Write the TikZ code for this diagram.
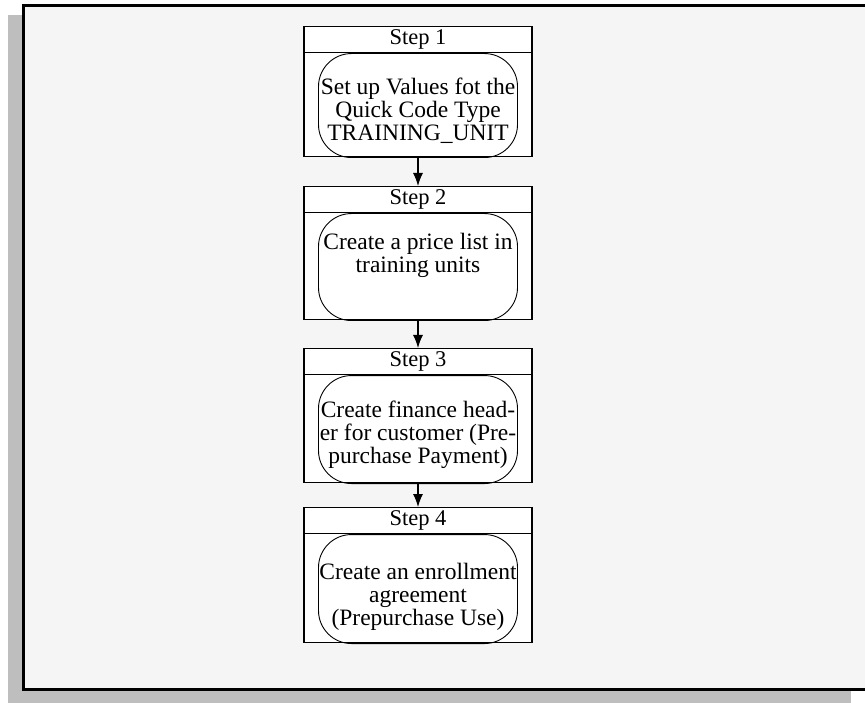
\documentclass[tikz,border=0pt]{standalone}
\usepackage{fontspec}
\setmainfont{Liberation Serif}
\usetikzlibrary{arrows.meta}
\definecolor{panelgray}{HTML}{F5F5F5}
\definecolor{shadowgray}{HTML}{BEBEBE}
\begin{document}
\begin{tikzpicture}[x=1pt,y=-1pt,
  stepframe/.style={draw=black,line width=1.1pt,fill=white,minimum width=228pt,inner sep=0pt,anchor=north},
  stephead/.style={draw=black,line width=1.1pt,minimum width=228pt,minimum height=26pt,inner sep=0pt,anchor=north,
    font=\fontsize{22.5}{23}\selectfont},
  stepbody/.style={draw=black,line width=0.9pt,rounded corners=33pt,minimum width=199pt,inner sep=0pt,anchor=north},
  steptext/.style={anchor=north,align=center,inner sep=0pt,font=\fontsize{23.5}{23}\selectfont},
  flow/.style={-{Latex[length=13pt,width=10pt]},line width=1.1pt}]
\clip (0,0) rectangle (865,703);
% drop shadow and panel
\fill[shadowgray] (8,15) rectangle (851,703);
\draw[fill=panelgray,line width=3pt] (23.5,5.5) rectangle (880,689.5);
% step 1
\node[stepframe,minimum height=130pt] (s1) at (418,26) {};
\node[stephead] (h1) at (s1.north) {Step 1};
\node[stepbody,minimum height=104pt] (r1) at (h1.south) {};
\node[steptext] (t1) at ([yshift=-25pt]h1.south) {Set up Values fot the\\Quick Code Type\\TRAINING\_UNIT};
% step 2
\node[stepframe,minimum height=133pt] (s2) at (418,186) {};
\node[stephead] (h2) at (s2.north) {Step 2};
\node[stepbody,minimum height=107pt] (r2) at (h2.south) {};
\node[steptext] (t2) at ([yshift=-20pt]h2.south) {Create a price list in\\training units};
% step 3
\node[stepframe,minimum height=134pt] (s3) at (418,348) {};
\node[stephead] (h3) at (s3.north) {Step 3};
\node[stepbody,minimum height=108pt] (r3) at (h3.south) {};
\node[steptext] (t3) at ([yshift=-26pt]h3.south) {Create finance head-\\er for customer (Pre-\\purchase Payment)};
% step 4
\node[stepframe,minimum height=135pt] (s4) at (418,507) {};
\node[stephead] (h4) at (s4.north) {Step 4};
\node[stepbody,minimum height=109pt] (r4) at (h4.south) {};
\node[steptext] (t4) at ([yshift=-29pt]h4.south) {Create an enrollment\\agreement\\(Prepurchase Use)};
% connectors
\draw[flow] (s1.south) -- (s2.north);
\draw[flow] (s2.south) -- (s3.north);
\draw[flow] (s3.south) -- (s4.north);
\end{tikzpicture}
\end{document}
